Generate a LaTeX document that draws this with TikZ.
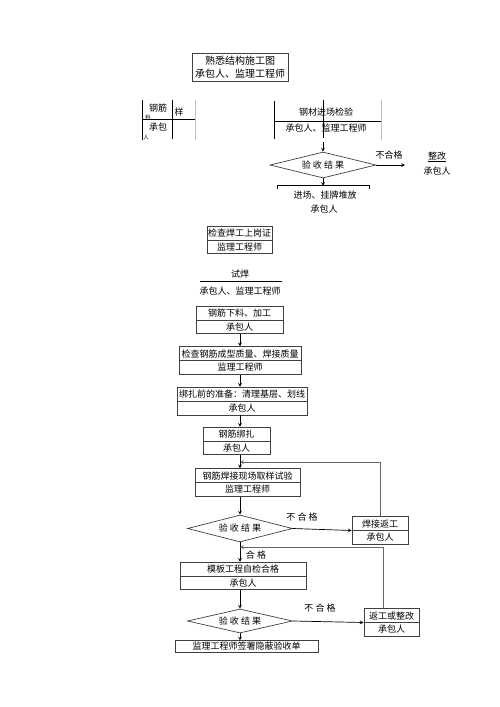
\documentclass[tikz,border=0pt]{standalone}
\usepackage{fontspec}
\setmainfont{Liberation Serif}
\newfontfamily\cjk{Noto Sans CJK SC}
\usetikzlibrary{shapes.geometric, shapes.multipart, arrows}
\tikzstyle{arrow} = [->,>=stealth]
\tikzstyle{twobox} = [rectangle split, rectangle split parts=2, draw=black!75, align=center, inner xsep=0pt, inner ysep=2.4pt]
\tikzstyle{check} = [diamond, draw=black!75, aspect=4, inner sep=0pt]
\tikzstyle{faint} = [draw=black!25]

\begin{document}
\begin{tikzpicture}[x=1pt, y=-1pt, line width=0.7pt, every node/.style={font=\cjk\fontsize{9}{11}\selectfont}]
        \useasboundingbox (0,0) rectangle (500,707);
        \coordinate (axis) at (240,0);

        % Top box
        \node[draw=black!75, text width=96pt, align=center, inner xsep=0pt, inner ysep=3pt, font=\cjk\fontsize{10}{13}\selectfont] (drawing) at (240,67) {熟悉结构施工图\\承包人、监理工程师};

        % Left fragment
        \draw (142,100) -- (142,140);
        \draw (172,100) -- (172,139);
        \draw (142,119) -- (195,119);
        \draw[faint] (195,100) -- (195,140);
        \node (bar) at (158,108) {钢筋};
        \node[font=\cjk\fontsize{5.5}{6}\selectfont] (barsub) at (148,117) {料};
        \node (sample) at (179,112) {样};
        \node (barown) at (158,127) {承包};
        \node[font=\cjk\fontsize{5.5}{6}\selectfont] (barownsub) at (146,137) {人};

        % Middle fragment
        \draw (274,101) -- (274,139);
        \draw (323,100) -- (323,138);
        \draw (274,121) -- (381,121);
        \draw[faint] (381,100) -- (381,140);
        \node (steel) at (326,112) {钢材进场检验};
        \node (steelown) at (326,128) {承包人、监理工程师};

        % First check
        \coordinate (d1in) at (323,142);
        \node[check, minimum width=106pt, minimum height=26pt] (d1) at (323,165) {验 收 结 果};
        \draw[arrow] (d1in) -- (d1.north);
        \draw[arrow] (d1.east) -- (405,165) coordinate (d1out);
        \node (fail1) at (389,155) {不合格};
        \node (fix) at (437,157) {\underline{整改}};
        \node (fixown) at (437,171) {承包人};
        \draw (277,189) -- (277,185) -- (369,185) -- (369,189);
        \draw[arrow] (d1.south) -- (323,186) coordinate (d1low);
        \node (stack) at (325,195) {进场、挂牌堆放};
        \node (stackown) at (324,209) {承包人};

        % Welder certificate
        \node[twobox, text width=65pt] (cert) at (239.5,240) {检查焊工上岗证\nodepart{two}监理工程师};

        % Trial weld
        \node (trial) at (240,274) {试焊};
        \draw (200,281) -- (282,281);
        \node (trialown) at (240,291) {承包人、监理工程师};

        % Main chain
        \node[twobox, text width=87pt] (cut) at (239.5,320) {钢筋下料、加工\nodepart{two}承包人};
        \node[twobox, text width=122pt] (form) at (240,360.5) {检查钢筋成型质量、焊接质量\nodepart{two}监理工程师};
        \node[twobox, text width=130pt] (prep) at (242,401) {绑扎前的准备：清理基层、划线\nodepart{two}承包人};
        \node[twobox, text width=67pt] (tie) at (236.5,441) {钢筋绑扎\nodepart{two}承包人};
        \node[twobox, text width=105pt] (test) at (247.5,482.5) {钢筋焊接现场取样试验\nodepart{two}监理工程师};
        \node[check, minimum width=105pt, minimum height=27pt] (d2) at (240,528.5) {验 收 结 果};
        \node[twobox, text width=56pt] (reweld) at (380,530.5) {焊接返工\nodepart{two}承包人};
        \node[twobox, text width=126pt] (mould) at (243,576) {模板工程自检合格\nodepart{two}承包人};
        \node[check, minimum width=105pt, minimum height=24pt] (d3) at (240,621) {验 收 结 果};
        \node[twobox, text width=55pt] (redo) at (391.5,622.5) {返工或整改\nodepart{two}承包人};
        \node[draw=black!75, text width=143pt, align=center, inner xsep=0pt, inner ysep=1.5pt] (sign) at (246.5,646.5) {监理工程师签署隐蔽验收单};

        \draw[arrow] (cut.south -| axis) -- (form.north -| axis);
        \draw[arrow] (form.south -| axis) -- (prep.north -| axis);
        \draw[arrow] (prep.south -| axis) -- (tie.north -| axis);
        \draw[arrow] (tie.south -| axis) -- (test.north -| axis);
        \draw[arrow] (test.south -| axis) -- (d2.north);
        \draw[arrow] (d2.east) -- (reweld.west);
        \node (fail2) at (302,517) {不 合 格};
        \draw[arrow] (d2.south) -- (mould.north -| axis);
        \node (pass2) at (256,555) {合 格};
        \draw[arrow] (mould.south -| axis) -- (d3.north);
        \draw[arrow] (d3.east) -- (redo.west);
        \node (fail3) at (320,608) {不 合 格};
        \draw[arrow] (d3.south) -- (sign.north -| d3.south);

        % Feedback loops
        \coordinate (back1) at (240,462);
        \coordinate (back2) at (240,547);
        \draw[arrow, draw=black!60] (reweld.north) |- (back1);
        \draw[arrow, draw=black!60] (redo.north -| 383,0) |- (back2);
\end{tikzpicture}
\end{document}
